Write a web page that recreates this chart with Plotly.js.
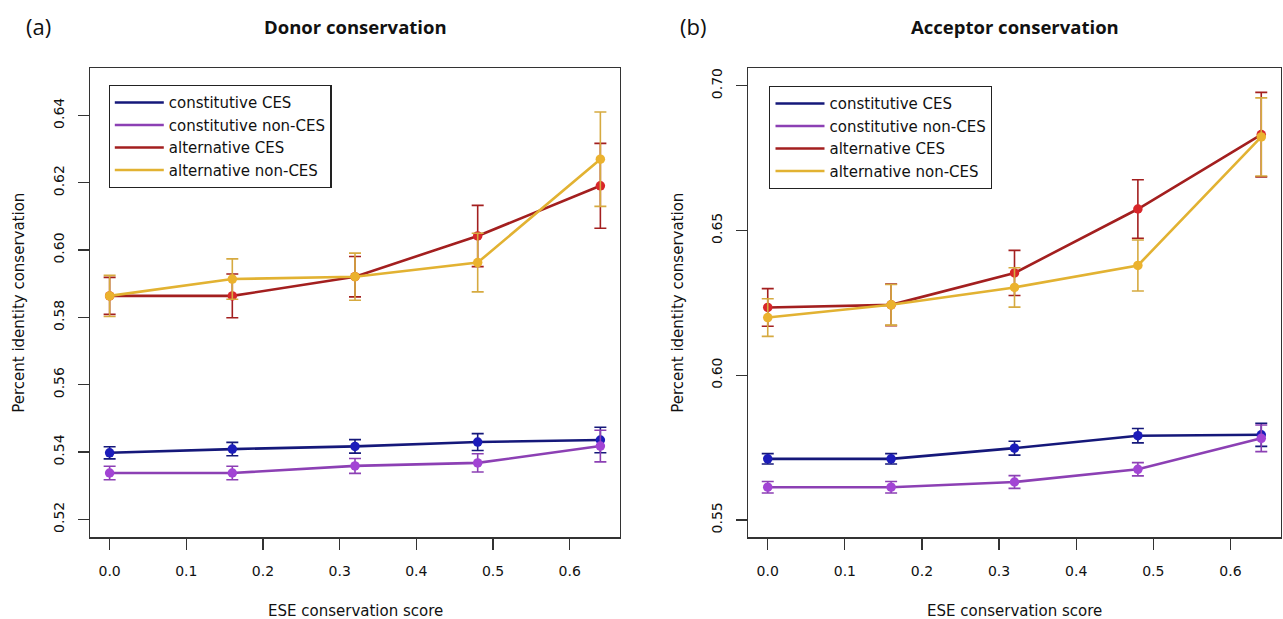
<!DOCTYPE html>
<html>
<head>
<meta charset="utf-8">
<script src="https://cdn.plot.ly/plotly-3.0.1.min.js"></script>
<style>html,body{margin:0;padding:0;background:#fff;}#chart{width:1283px;height:619px;}</style>
</head>
<body>
<div id="chart"></div>
<script>
// ---- data ----
const xScore = [0, 0.16, 0.32, 0.48, 0.64];
const seriesNames = ['constitutive CES', 'constitutive non-CES', 'alternative CES', 'alternative non-CES'];

// Donor conservation (a)
const donorConstCES = [0.5398, 0.5409, 0.5417, 0.5430, 0.5436];
const donorConstCESErr = [0.0018, 0.0020, 0.0020, 0.0025, 0.0038];
const donorConstNon = [0.5338, 0.5338, 0.5359, 0.5368, 0.5418];
const donorConstNonErr = [0.0020, 0.0020, 0.0022, 0.0027, 0.0047];
const donorAltCES = [0.5864, 0.5864, 0.5921, 0.6042, 0.6191];
const donorAltCESErr = [0.0055, 0.0065, 0.0060, 0.0091, 0.0126];
const donorAltNon = [0.5864, 0.5914, 0.5921, 0.5963, 0.6270];
const donorAltNonErr = [0.0061, 0.0060, 0.0070, 0.0087, 0.0140];

// Acceptor conservation (b)
const accConstCES = [0.5711, 0.5711, 0.5748, 0.5791, 0.5794];
const accConstCESErr = [0.0018, 0.0018, 0.0024, 0.0025, 0.0040];
const accConstNon = [0.5613, 0.5613, 0.5631, 0.5675, 0.5782];
const accConstNonErr = [0.0020, 0.0020, 0.0022, 0.0023, 0.0046];
const accAltCES = [0.6234, 0.6243, 0.6353, 0.6574, 0.6831];
const accAltCESErr = [0.0065, 0.0072, 0.0078, 0.0101, 0.0146];
const accAltNon = [0.6199, 0.6243, 0.6303, 0.6379, 0.6823];
const accAltNonErr = [0.0065, 0.0070, 0.0068, 0.0088, 0.0135];

const xTickVals = [0, 0.1, 0.2, 0.3, 0.4, 0.5, 0.6];
const xTickText = ['0.0', '0.1', '0.2', '0.3', '0.4', '0.5', '0.6'];
const donorTickVals = [0.52, 0.54, 0.56, 0.58, 0.60, 0.62, 0.64];
const donorTickText = ['0.52', '0.54', '0.56', '0.58', '0.60', '0.62', '0.64'];
const accTickVals = [0.55, 0.60, 0.65, 0.70];
const accTickText = ['0.55', '0.60', '0.65', '0.70'];

// ---- styles ----
const lineColors = ['#15187a', '#8c40b4', '#a31f1f', '#e2b232'];
const markerColors = ['#1c1cba', '#a244d4', '#d8262a', '#ebb22e'];
const errColors = ['#15187a', '#8c40b4', '#a31f1f', '#d6aa40'];

const panels = [
  {xa: 'x', ya: 'y', legend: 'legend',
   ys: [donorConstCES, donorConstNon, donorAltCES, donorAltNon],
   es: [donorConstCESErr, donorConstNonErr, donorAltCESErr, donorAltNonErr]},
  {xa: 'x2', ya: 'y2', legend: 'legend2',
   ys: [accConstCES, accConstNon, accAltCES, accAltNon],
   es: [accConstCESErr, accConstNonErr, accAltCESErr, accAltNonErr]}
];

const traces = [];
panels.forEach(p => {
  for (let i = 0; i < 4; i++) {
    traces.push({
      type: 'scatter', mode: 'lines', x: xScore, y: p.ys[i],
      xaxis: p.xa, yaxis: p.ya, name: seriesNames[i], legend: p.legend,
      line: {color: lineColors[i], width: 2.6}, hoverinfo: 'skip'
    });
    traces.push({
      type: 'scatter', mode: 'markers', x: xScore, y: p.ys[i],
      xaxis: p.xa, yaxis: p.ya, showlegend: false,
      marker: {color: markerColors[i], size: 9.5, line: {width: 0}},
      error_y: {type: 'data', array: p.es[i], visible: true, color: errColors[i], thickness: 1.6, width: 6}
    });
  }
});

const FONT = 'DejaVu Sans, sans-serif';
const TFONT = 'Open Sans, sans-serif';
const axisCommon = {
  showgrid: false, zeroline: false, showline: true, mirror: true,
  linecolor: '#333', linewidth: 1.3, ticks: 'outside', ticklen: 11,
  tickcolor: '#333', tickwidth: 1.3, tickfont: {family: FONT, size: 14, color: '#111'},
  tickmode: 'array', fixedrange: true
};

const W = 1283, H = 619;
const yDom = [(H - 537.3) / H, (H - 68.3) / H];

const legendCommon = {xanchor: 'left', yanchor: 'top', bgcolor: '#fff', bordercolor: '#222', borderwidth: 1.2,
  itemwidth: 49, font: {family: FONT, size: 15, color: '#111'}};

const layout = {
  width: W, height: H,
  margin: {l: 0, r: 0, t: 0, b: 0},
  paper_bgcolor: '#fff', plot_bgcolor: '#fff',
  showlegend: true,
  xaxis: Object.assign({}, axisCommon, {domain: [90 / W, 620 / W], range: [-0.0256, 0.6656],
    tickvals: xTickVals, ticktext: xTickText, ticklabelstandoff: 10, anchor: 'y'}),
  yaxis: Object.assign({}, axisCommon, {domain: yDom, range: [0.5147, 0.6540],
    tickvals: donorTickVals, ticktext: donorTickText, tickangle: -90, ticklabelstandoff: 8, anchor: 'x'}),
  xaxis2: Object.assign({}, axisCommon, {domain: [748 / W, 1281 / W], range: [-0.0256, 0.6656],
    tickvals: xTickVals, ticktext: xTickText, ticklabelstandoff: 10, anchor: 'y2'}),
  yaxis2: Object.assign({}, axisCommon, {domain: yDom, range: [0.5440, 0.7060],
    tickvals: accTickVals, ticktext: accTickText, tickangle: -90, ticklabelstandoff: 8, anchor: 'x2'}),
  legend: Object.assign({}, legendCommon, {x: 108.6 / W, y: (H - 85) / H}),
  legend2: Object.assign({}, legendCommon, {x: 769.3 / W, y: (H - 86) / H}),
  annotations: [
    {text: '(a)', x: 38 / W, y: (H - 26) / H, xref: 'paper', yref: 'paper', showarrow: false,
     xanchor: 'center', yanchor: 'middle', font: {family: TFONT, size: 22, color: '#111'}},
    {text: '(b)', x: 693 / W, y: (H - 26) / H, xref: 'paper', yref: 'paper', showarrow: false,
     xanchor: 'center', yanchor: 'middle', font: {family: TFONT, size: 22, color: '#111'}},
    {text: '<b>Donor conservation</b>', x: 355 / W, y: (H - 27) / H, xref: 'paper', yref: 'paper', showarrow: false,
     xanchor: 'center', yanchor: 'middle', font: {family: TFONT, size: 18.5, color: '#111'}},
    {text: '<b>Acceptor conservation</b>', x: 1014.5 / W, y: (H - 27) / H, xref: 'paper', yref: 'paper', showarrow: false,
     xanchor: 'center', yanchor: 'middle', font: {family: TFONT, size: 18.5, color: '#111'}},
    {text: 'ESE conservation score', x: 355 / W, y: (H - 611) / H, xref: 'paper', yref: 'paper', showarrow: false,
     xanchor: 'center', yanchor: 'middle', font: {family: FONT, size: 15, color: '#111'}},
    {text: 'ESE conservation score', x: 1014.5 / W, y: (H - 611) / H, xref: 'paper', yref: 'paper', showarrow: false,
     xanchor: 'center', yanchor: 'middle', font: {family: FONT, size: 15, color: '#111'}},
    {text: 'Percent identity conservation', x: 19 / W, y: (H - 302.8) / H, xref: 'paper', yref: 'paper', showarrow: false,
     textangle: -90, xanchor: 'center', yanchor: 'middle', font: {family: FONT, size: 15, color: '#111'}},
    {text: 'Percent identity conservation', x: 678 / W, y: (H - 302.8) / H, xref: 'paper', yref: 'paper', showarrow: false,
     textangle: -90, xanchor: 'center', yanchor: 'middle', font: {family: FONT, size: 15, color: '#111'}}
  ]
};

Plotly.newPlot('chart', traces, layout, {displayModeBar: false, staticPlot: true});
</script>
</body>
</html>
